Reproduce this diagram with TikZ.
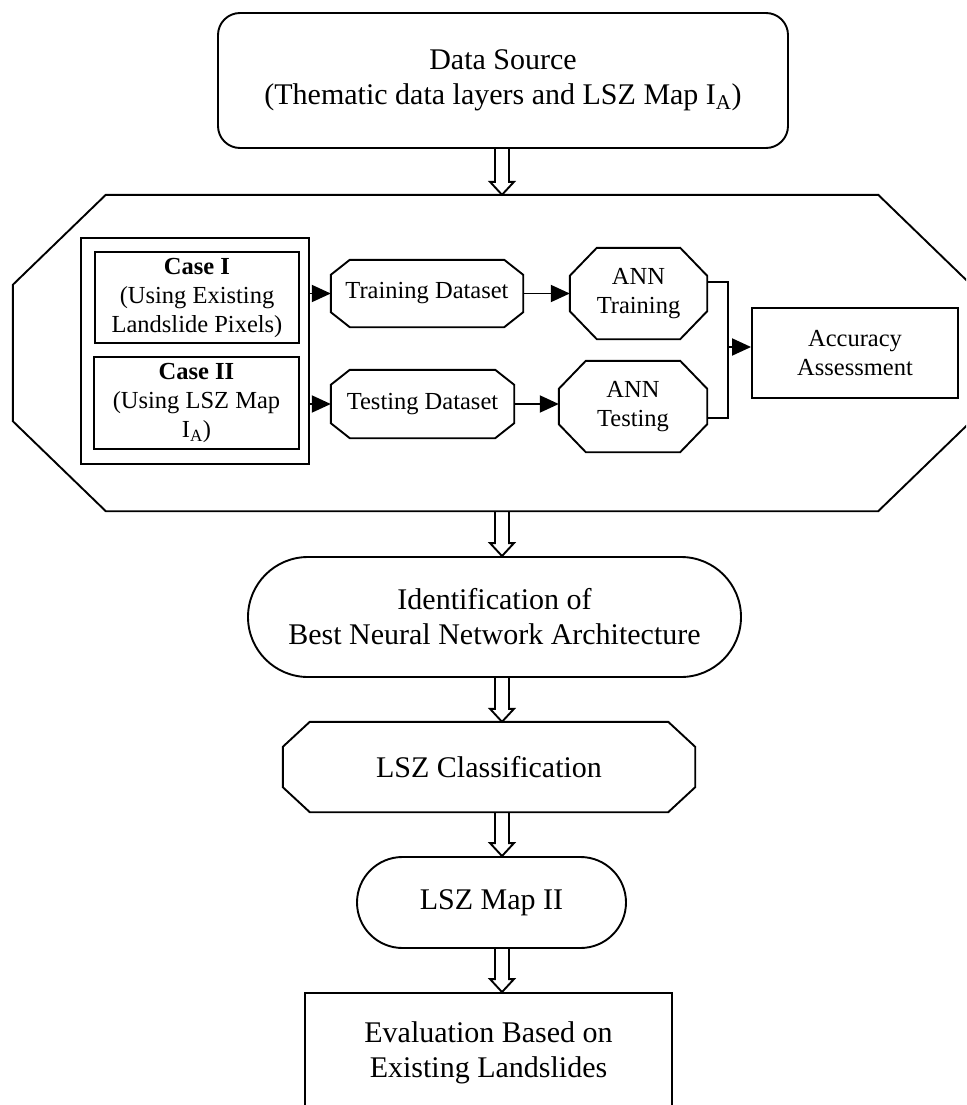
\documentclass[tikz,border=0pt]{standalone}
\usepackage{fontspec}
\setmainfont{Liberation Serif}
\usetikzlibrary{arrows.meta,calc}
\newcommand\bigtxt{\fontsize{30}{35}\selectfont}
\newcommand\smtxt{\fontsize{24.5}{29}\selectfont}
% chamfered outline around a named node: #1 node, #2 horizontal chamfer, #3 vertical chamfer
\newcommand\octdraw[3]{\draw[shapeline] ([xshift=#2]#1.north west) -- ([xshift=-#2]#1.north east) -- ([yshift=-#3]#1.north east) -- ([yshift=#3]#1.south east) -- ([xshift=-#2]#1.south east) -- ([xshift=#2]#1.south west) -- ([yshift=#3]#1.south west) -- ([yshift=-#3]#1.north west) -- cycle;}
% hollow block arrow from node #1 down to node #2 along column (col)
\newcommand\hollowarrow[2]{%
  \draw[shapeline]
    ($(#1.south -| col)+(-7pt,0pt)$) -- ($(#2.north -| col)+(-7pt,13pt)$) -- ($(#2.north -| col)+(-12pt,13pt)$)
    -- (#2.north -| col) -- ($(#2.north -| col)+(12pt,13pt)$) -- ($(#2.north -| col)+(7pt,13pt)$)
    -- ($(#1.south -| col)+(7pt,0pt)$);}
\tikzset{
  shapeline/.style={draw=black, line width=1.9pt, line join=miter},
  plain/.style={inner sep=0pt, align=center},
  rbox/.style={plain, draw=black, line width=1.9pt},
  tri/.style={line width=1.9pt, -{Triangle[length=19pt,width=17pt]}},
  conn/.style={line width=1.9pt},
}
\begin{document}
\begin{tikzpicture}[x=1pt,y=-1pt]
\useasboundingbox (0,0) rectangle (966,1105);
\fill[white] (0,0) rectangle (966,1105);
\clip (0,0) rectangle (966,1105);
\coordinate (col) at (502,0);

% data source
\node[rbox, rounded corners=22pt, minimum width=570pt, minimum height=135pt, font=\bigtxt] (src) at (503,80.5)
  {Data Source\\(Thematic data layers and LSZ Map I\textsubscript{A})};

% big octagon
\node[plain, minimum width=958pt, minimum height=316pt] (big) at (492,353) {};
\octdraw{big}{93pt}{90pt}

% cases
\node[rbox, minimum width=228pt, minimum height=226pt] (cases) at (195,351) {};
\node[rbox, minimum width=204pt, minimum height=91pt, font=\smtxt] (c1) at (197,297.5)
  {\textbf{Case I}\\(Using Existing\\Landslide Pixels)};
\node[rbox, minimum width=205pt, minimum height=92pt, font=\smtxt] (c2) at (196.5,403)
  {\textbf{Case II}\\(Using LSZ Map\\I\textsubscript{A})};

% datasets
\node[plain, minimum width=192pt, minimum height=67pt, font=\smtxt] (trd) at (427,293.5) {Training Dataset};
\octdraw{trd}{19pt}{15pt}
\node[plain, minimum width=183pt, minimum height=68pt, font=\smtxt] (ted) at (422.5,404) {Testing Dataset};
\octdraw{ted}{19pt}{15pt}

% ANN
\node[plain, minimum width=137pt, minimum height=91pt, font=\smtxt] (anntr) at (638.5,293.5) {ANN\\Training};
\octdraw{anntr}{27pt}{28pt}
\node[plain, minimum width=148pt, minimum height=91pt, font=\smtxt] (annte) at (633,406.5) {ANN\\Testing};
\octdraw{annte}{27pt}{28pt}

% accuracy
\node[rbox, minimum width=206pt, minimum height=90pt, font=\smtxt] (acc) at (855,353) {Accuracy\\Assessment};

% connectors inside
\draw[tri] (cases.east |- trd.west) -- (trd.west);
\draw[tri] (cases.east |- ted.west) -- (ted.west);
\draw[tri] (trd.east) -- (anntr.west |- trd.east);
\draw[tri] (ted.east) -- (annte.west |- ted.east);
\coordinate (j) at (728,347);
\draw[conn] ([yshift=11.5pt]anntr.east) -| (j);
\draw[conn] ([yshift=-11.5pt]annte.east) -| (j);
\draw[tri] (j) -- (j -| acc.west);

% lower chain
\node[rbox, rounded corners=60pt, minimum width=493pt, minimum height=120pt, font=\bigtxt] (ident) at (494.5,617)
  {Identification of\\Best Neural Network Architecture};
\node[plain, minimum width=412pt, minimum height=90pt, font=\bigtxt] (cls) at (489,767) {LSZ Classification};
\octdraw{cls}{27pt}{25pt}
\node[rbox, rounded corners=45.5pt, minimum width=269pt, minimum height=91pt, font=\bigtxt] (map) at (491.5,902.5) {LSZ Map II};
\node[rbox, minimum width=367pt, minimum height=120pt, font=\bigtxt] (eval) at (488.5,1053)
  {Evaluation Based on\\Existing Landslides};

% hollow arrows
\hollowarrow{src}{big}
\hollowarrow{big}{ident}
\hollowarrow{ident}{cls}
\hollowarrow{cls}{map}
\hollowarrow{map}{eval}
\end{tikzpicture}
\end{document}
